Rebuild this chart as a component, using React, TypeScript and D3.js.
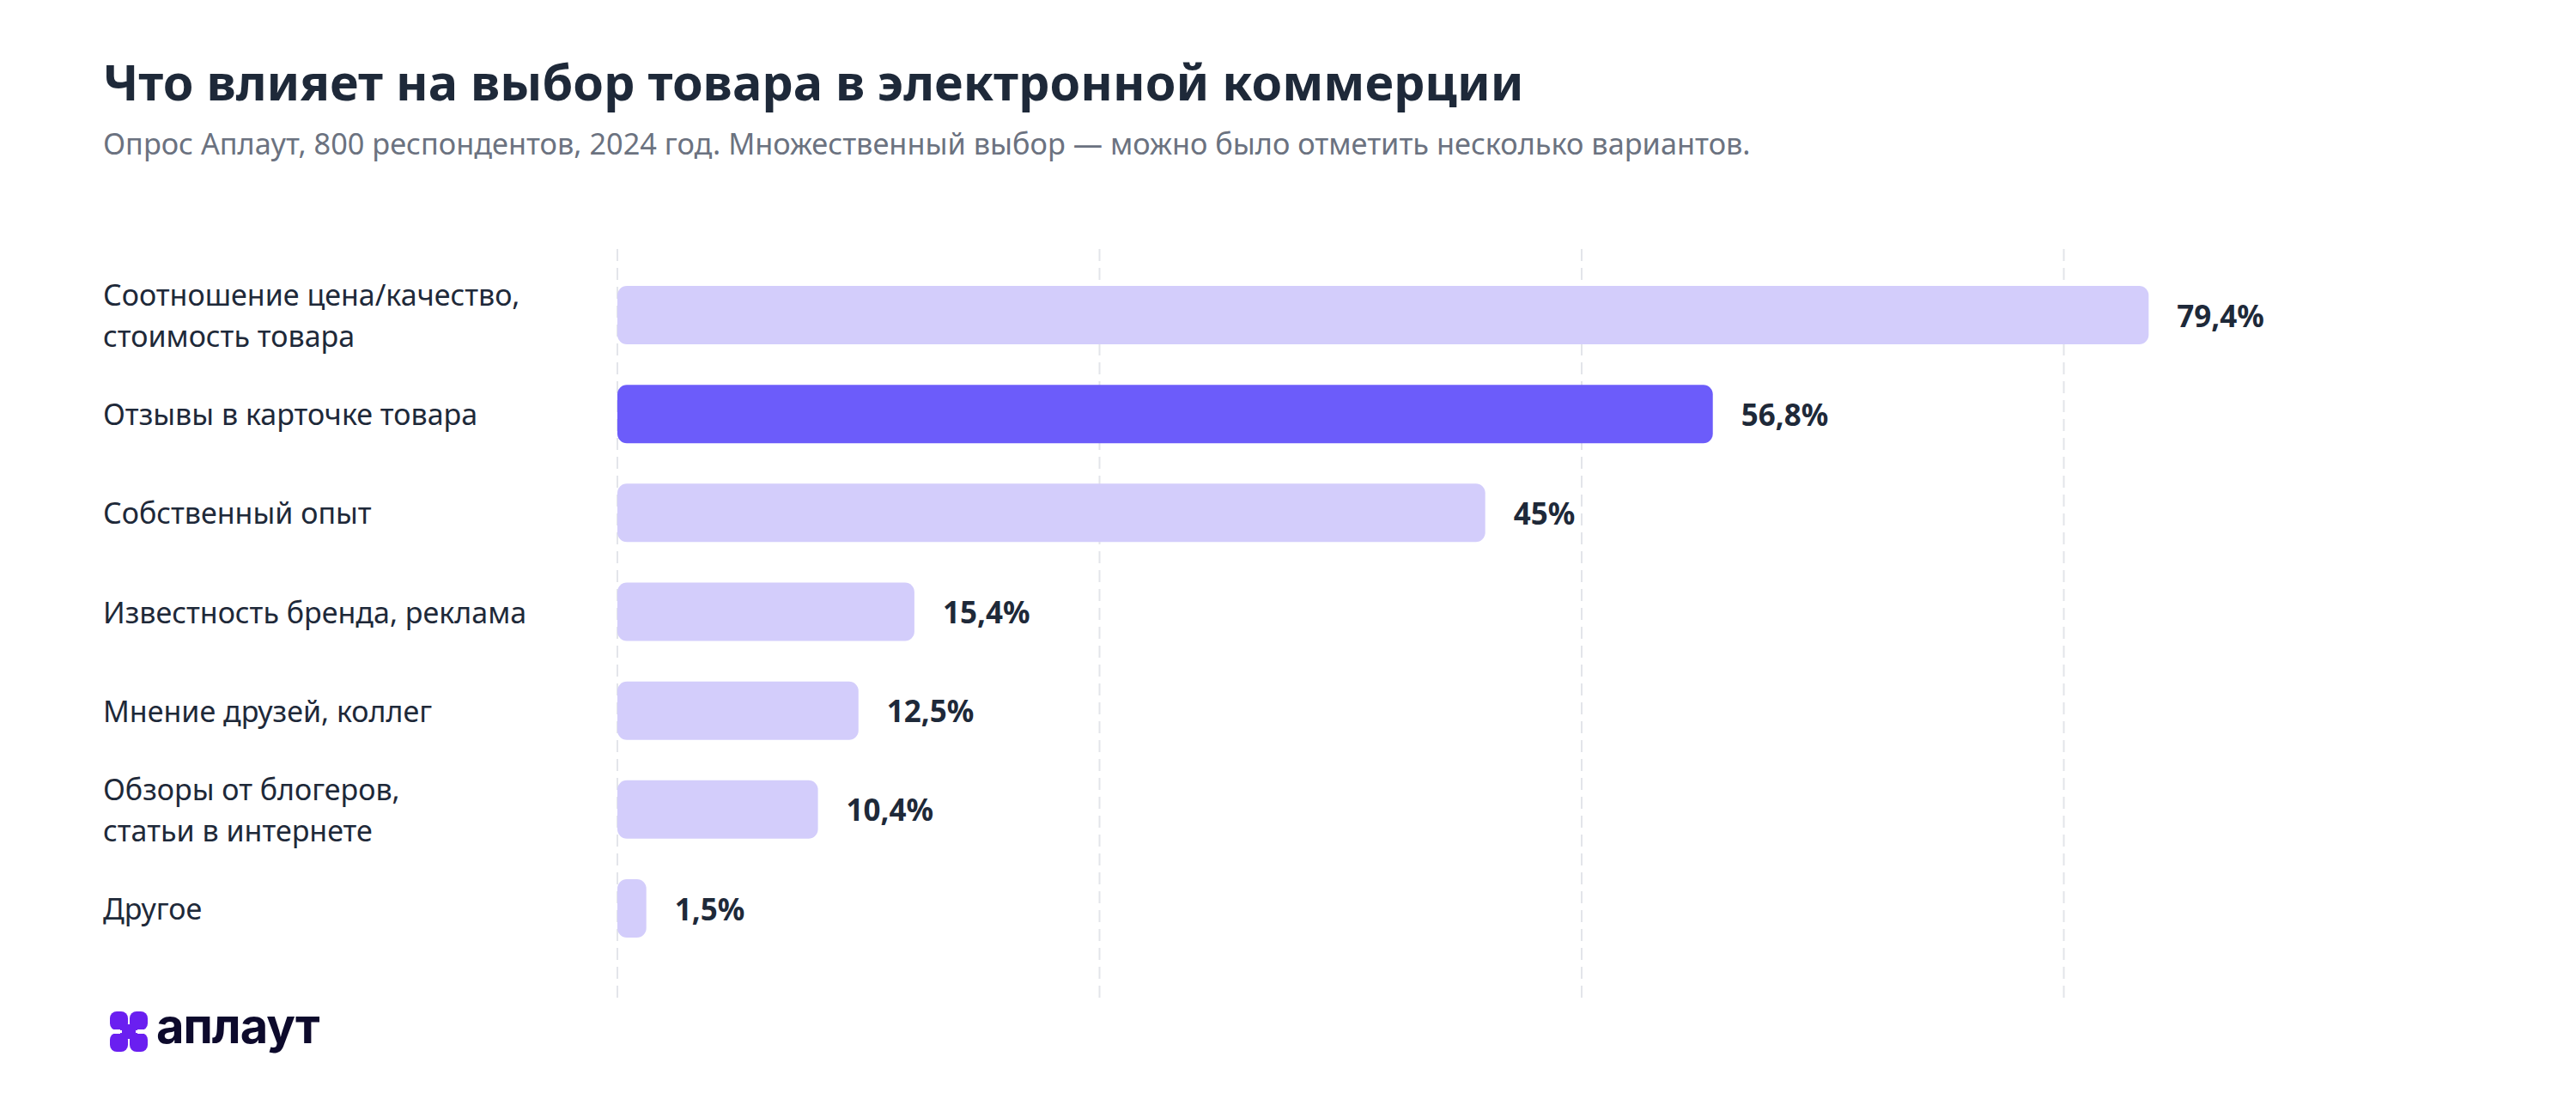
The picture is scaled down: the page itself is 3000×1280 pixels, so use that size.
import React from "react";
import { scaleLinear, scalePoint } from "d3";

const categories = [
  "Соотношение цена/качество, стоимость товара",
  "Отзывы в карточке товара",
  "Собственный опыт",
  "Известность бренда, реклама",
  "Мнение друзей, коллег",
  "Обзоры от блогеров, статьи в интернете",
  "Другое",
];
const labelLines = [
  ["Соотношение цена/качество,", "стоимость товара"],
  ["Отзывы в карточке товара"],
  ["Собственный опыт"],
  ["Известность бренда, реклама"],
  ["Мнение друзей, коллег"],
  ["Обзоры от блогеров,", "статьи в интернете"],
  ["Другое"],
];
const values = [79.4, 56.8, 45, 15.4, 12.5, 10.4, 1.5];
const valueLabels = ["79,4%", "56,8%", "45%", "15,4%", "12,5%", "10,4%", "1,5%"];
const highlighted = "Отзывы в карточке товара";
const gridTicks = [0, 25, 50, 75];

const title = "Что влияет на выбор товара в электронной коммерции";
const subtitle =
  "Опрос Аплаут, 800 респондентов, 2024 год. Множественный выбор — можно было отметить несколько вариантов.";

const FONT = "'Noto Sans', 'Open Sans', sans-serif";

export default function App() {
  const width = 3000;
  const height = 1280;

  const x = scaleLinear().domain([0, 100]).range([719, 2965]);
  const y = scalePoint().domain(categories).range([367, 1058]);
  const barH = 68;

  return (
    <svg
      width={width}
      height={height}
      style={{ position: "absolute", left: 0, top: 0, background: "#fff" }}
      fontFamily={FONT}
    >
      <rect width={width} height={height} fill="#fff" />
      <text x={120} y={117} fontSize={57.5} fontWeight={700} fill="#1e2939">
        {title}
      </text>
      <text x={120} y={180} fontSize={34.3} fill="#6b7280">
        {subtitle}
      </text>

      {/* grid */}
      <g className="grid">
        {gridTicks.map((t) => (
          <line
            key={t}
            x1={x(t)}
            x2={x(t)}
            y1={290}
            y2={1169}
            stroke="#e3e5ea"
            strokeWidth={2}
            strokeDasharray="14 8"
          />
        ))}
      </g>

      {/* bars */}
      <g className="bars">
        {categories.map((c, i) => {
          const cy = y(c) as number;
          const w = x(values[i]) - x(0);
          return (
            <g key={c}>
              <rect
                x={x(0)}
                y={cy - barH / 2}
                width={w}
                height={barH}
                rx={Math.min(11, w / 2)}
                fill={c === highlighted ? "#6c5cfa" : "#d3cdfb"}
              />
              <text
                x={x(values[i]) + 33}
                y={cy}
                dominantBaseline="central"
                fontSize={35}
                fontWeight={700}
                fill="#1e2939"
              >
                {valueLabels[i]}
              </text>
              <text fontSize={34} fill="#1e2939">
                {labelLines[i].map((l, j) => (
                  <tspan
                    key={j}
                    x={120}
                    y={cy + (j - (labelLines[i].length - 1) / 2) * 48}
                    dominantBaseline="central"
                  >
                    {l}
                  </tspan>
                ))}
              </text>
            </g>
          );
        })}
      </g>

      {/* logo */}
      <g transform="translate(128,1178)" fill="#6a1ff0">
        <rect x={0} y={0} width={21} height={22} rx={8} />
        <rect x={23} y={0} width={21} height={22} rx={8} />
        <rect x={0} y={25} width={21} height={22} rx={8} />
        <rect x={23} y={25} width={21} height={22} rx={8} />
        <rect x={14} y={15} width={16} height={17} />
        <rect x={0} y={21} width={12} height={5} fill="#fff" />
        <rect x={32} y={21} width={12} height={5} fill="#fff" />
      </g>
      <text
        x={182}
        y={1215}
        fontSize={56}
        fontWeight={700}
        fill="#0d0a2c"
        fontFamily="Inter, sans-serif"
        letterSpacing={-1}
      >
        аплаут
      </text>
    </svg>
  );
}
